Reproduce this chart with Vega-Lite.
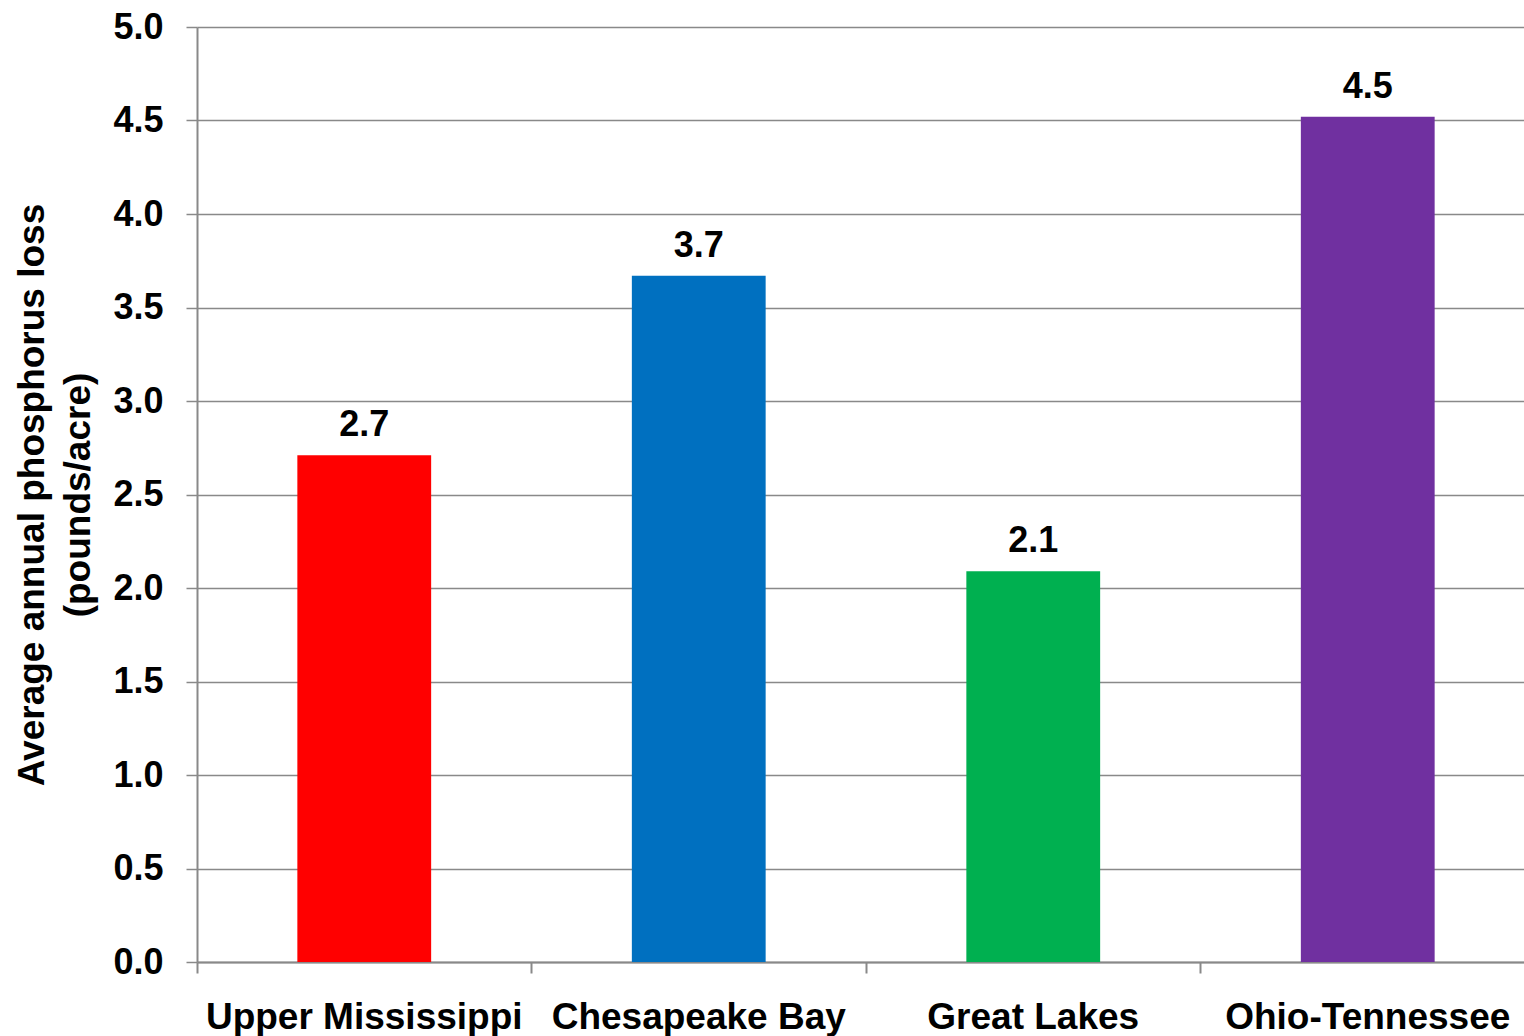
{
  "$schema": "https://vega.github.io/schema/vega-lite/v6.json",
  "autosize": {"type": "none"},
  "padding": {"left": 197, "top": 27, "right": 0, "bottom": 74},
  "width": 1338,
  "height": 935,
  "background": "white",
  "config": {
    "view": {"stroke": null},
    "font": "Liberation Sans"
  },
  "data": {
    "values": [
      {"region": "Upper Mississippi", "loss": 2.71},
      {"region": "Chesapeake Bay", "loss": 3.67},
      {"region": "Great Lakes", "loss": 2.09},
      {"region": "Ohio-Tennessee", "loss": 4.52}
    ]
  },
  "encoding": {
    "x": {
      "field": "region",
      "type": "nominal",
      "sort": null,
      "scale": {"paddingInner": 0.6, "paddingOuter": 0.3},
      "axis": {
        "title": null,
        "labelAngle": 0,
        "labelLimit": 0,
        "labelFont": "Liberation Sans",
        "labelFontSize": 37,
        "labelFontWeight": "bold",
        "labelColor": "black",
        "labelPadding": 26,
        "labelBaseline": "top",
        "bandPosition": -0.75,
        "ticks": true,
        "tickSize": 11,
        "tickColor": "#898989",
        "tickWidth": 2,
        "domainColor": "#898989",
        "domainWidth": 2,
        "grid": false
      }
    },
    "y": {
      "field": "loss",
      "type": "quantitative",
      "scale": {"domain": [0, 5], "nice": false},
      "axis": {
        "values": [0, 0.5, 1, 1.5, 2, 2.5, 3, 3.5, 4, 4.5, 5],
        "format": ".1f",
        "labelFont": "Liberation Sans",
        "labelFontSize": 36,
        "labelFontWeight": "bold",
        "labelColor": "black",
        "labelPadding": 23,
        "tickSize": 11,
        "tickColor": "#898989",
        "tickWidth": 1.5,
        "domainColor": "#898989",
        "domainWidth": 2,
        "grid": true,
        "gridColor": "#898989",
        "gridWidth": 1.5,
        "title": ["Average annual phosphorus loss", "(pounds/acre)"],
        "titleFont": "Liberation Sans",
        "titleFontSize": 37,
        "titleFontWeight": "bold",
        "titleColor": "black",
        "titleAngle": -90,
        "titleAlign": "center",
        "titleBaseline": "alphabetic",
        "titleLineHeight": 46,
        "titleX": -154,
        "titleY": 467.5
      }
    }
  },
  "layer": [
    {
      "mark": {"type": "bar"},
      "encoding": {
        "color": {
          "field": "region",
          "type": "nominal",
          "scale": {
            "domain": ["Upper Mississippi", "Chesapeake Bay", "Great Lakes", "Ohio-Tennessee"],
            "range": ["#FF0000", "#0070C0", "#00B050", "#7030A0"]
          },
          "legend": null
        }
      }
    },
    {
      "mark": {
        "type": "text",
        "font": "Liberation Sans",
        "fontSize": 36,
        "fontWeight": "bold",
        "color": "black",
        "baseline": "alphabetic",
        "dy": -19
      },
      "encoding": {
        "text": {"field": "loss", "type": "quantitative", "format": ".1f"}
      }
    }
  ]
}
